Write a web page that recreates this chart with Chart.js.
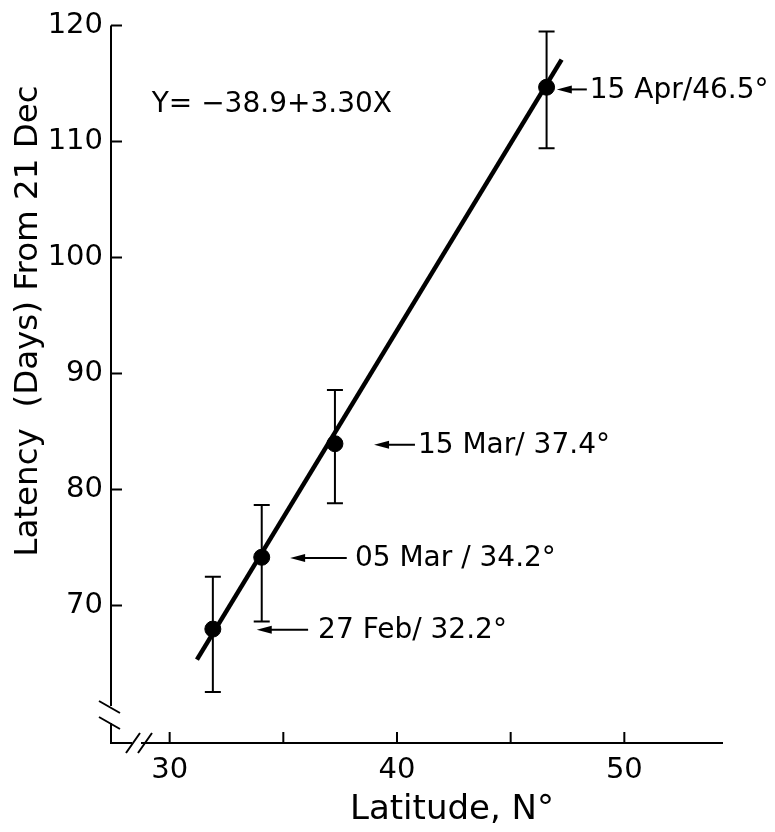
<!DOCTYPE html>
<html>
<head>
<meta charset="utf-8">
<script src="https://cdn.jsdelivr.net/npm/chart.js@4"></script>
<style>
  html, body { margin: 0; padding: 0; background: #fff; }
  #wrap { width: 775px; height: 832px; position: relative; }
</style>
</head>
<body>
<div id="wrap"><canvas id="latencyChart"></canvas></div>
<script>
// values
const latitude = [31.9, 34.05, 37.27, 46.58];
const latency = [67.96, 74.15, 83.94, 114.67];
const errLow = [62.53, 68.61, 78.8, 109.4];
const errHigh = [72.47, 78.66, 88.56, 119.47];
const fitX = [31.2, 47.24];
const fitY = [65.33, 117.05];
const dateLabels = ['27 Feb/ 32.2°', '05 Mar / 34.2°', '15 Mar/ 37.4°', '15 Apr/46.5°'];
const xTicks = [30, 35, 40, 45, 50];
const xTickLabels = ['30', '', '40', '', '50'];
const yTicks = [70, 80, 90, 100, 110, 120];
const equation = 'Y= \u221238.9+3.30X';

// where the arrows / labels sit, in data units
const arrowLayout = [
    { head: 33.83, tail: 36.09, y: 67.9, text: 36.53 },
    { head: 35.30, tail: 37.79, y: 74.09, text: 38.15 },
    { head: 38.99, tail: 40.79, y: 83.85, text: 40.92 },
    { head: 47.03, tail: 48.35, y: 114.48, text: 48.48 }
];

const FONT = "'DejaVu Sans', sans-serif";

const extras = {
    id: 'extras',
    afterDraw(chart) {
        const ctx = chart.ctx;
        const x = chart.scales.x, y = chart.scales.y;
        const area = chart.chartArea;
        ctx.save();
        ctx.strokeStyle = '#000';
        ctx.fillStyle = '#000';
        ctx.lineCap = 'butt';

        // axes with breaks
        ctx.lineWidth = 2;
        ctx.beginPath();
        ctx.moveTo(area.left, area.top);
        ctx.lineTo(area.left, area.bottom - 37);
        ctx.moveTo(area.left, area.bottom - 20);
        ctx.lineTo(area.left, area.bottom);
        ctx.lineTo(area.left + 21, area.bottom);
        ctx.moveTo(area.left + 30, area.bottom);
        ctx.lineTo(area.right, area.bottom);
        // break marks
        ctx.moveTo(area.left - 12, area.bottom - 42);
        ctx.lineTo(area.left + 9, area.bottom - 30);
        ctx.moveTo(area.left - 12, area.bottom - 26);
        ctx.lineTo(area.left + 9, area.bottom - 14);
        ctx.moveTo(area.left + 15, area.bottom + 10);
        ctx.lineTo(area.left + 29, area.bottom - 10);
        ctx.moveTo(area.left + 27, area.bottom + 10);
        ctx.lineTo(area.left + 41, area.bottom - 10);
        // inward ticks
        yTicks.forEach(v => {
            const py = y.getPixelForValue(v);
            ctx.moveTo(area.left, py);
            ctx.lineTo(area.left + 11, py);
        });
        xTicks.forEach(v => {
            const px = x.getPixelForValue(v);
            ctx.moveTo(px, area.bottom);
            ctx.lineTo(px, area.bottom - 11);
        });
        ctx.stroke();

        // error bars
        ctx.lineWidth = 2;
        ctx.beginPath();
        latitude.forEach((lat, i) => {
            const px = x.getPixelForValue(lat);
            const lo = y.getPixelForValue(errLow[i]);
            const hi = y.getPixelForValue(errHigh[i]);
            ctx.moveTo(px, lo); ctx.lineTo(px, hi);
            ctx.moveTo(px - 8, lo); ctx.lineTo(px + 8, lo);
            ctx.moveTo(px - 8, hi); ctx.lineTo(px + 8, hi);
        });
        ctx.stroke();

        // arrows + date labels
        ctx.font = '28px ' + FONT;
        ctx.textBaseline = 'middle';
        ctx.textAlign = 'left';
        arrowLayout.forEach((a, i) => {
            const hx = x.getPixelForValue(a.head);
            const tx = x.getPixelForValue(a.tail);
            const py = y.getPixelForValue(a.y);
            ctx.lineWidth = 2;
            ctx.beginPath();
            ctx.moveTo(hx + 8, py);
            ctx.lineTo(tx, py);
            ctx.stroke();
            ctx.beginPath();
            ctx.moveTo(hx, py);
            ctx.lineTo(hx + 15, py - 4);
            ctx.lineTo(hx + 15, py + 4);
            ctx.closePath();
            ctx.fill();
            ctx.fillText(dateLabels[i], x.getPixelForValue(a.text), py + 1);
        });

        // regression equation
        ctx.font = '28px ' + FONT;
        ctx.fillText(equation, x.getPixelForValue(29.21), y.getPixelForValue(113.2));

        // axis titles
        ctx.font = '34px ' + FONT;
        ctx.textAlign = 'center';
        ctx.fillText('Latitude, N°', 452, 810);
        ctx.font = '32.5px ' + FONT;
        ctx.translate(29, 321);
        ctx.rotate(-Math.PI / 2);
        ctx.fillText('Latency  (Days) From 21 Dec', 0, 0);
        ctx.restore();
    }
};

document.addEventListener('DOMContentLoaded', function() {
    const ctx = document.getElementById('latencyChart');
    new Chart(ctx, {
        type: 'scatter',
        data: {
            datasets: [{
                type: 'line',
                label: 'Fit',
                data: fitX.map((v, i) => ({ x: v, y: fitY[i] })),
                borderColor: '#000',
                borderWidth: 4.5,
                pointRadius: 0,
                fill: false
            }, {
                label: 'Latency',
                data: latitude.map((v, i) => ({ x: v, y: latency[i] })),
                backgroundColor: '#000',
                borderColor: '#000',
                pointRadius: 8
            }]
        },
        options: {
            responsive: true,
            maintainAspectRatio: false,
            animation: false,
            layout: { padding: { left: 0, right: 52, top: 20, bottom: 0 } },
            plugins: { legend: { display: false }, tooltip: { enabled: false } },
            scales: {
                x: {
                    type: 'linear',
                    min: 27.42,
                    max: 54.34,
                    grid: { display: false, drawTicks: false },
                    border: { display: false },
                    afterBuildTicks: s => { s.ticks = xTicks.map(v => ({ value: v })); },
                    afterFit: s => { s.height = 89; },
                    ticks: {
                        autoSkip: false,
                        maxRotation: 0,
                        padding: 10,
                        color: '#000',
                        font: { family: FONT, size: 29 },
                        callback: (v) => xTickLabels[xTicks.indexOf(v)]
                    }
                },
                y: {
                    type: 'linear',
                    min: 58.14,
                    max: 120,
                    grid: { display: false, drawTicks: false },
                    border: { display: false },
                    afterBuildTicks: s => { s.ticks = yTicks.map(v => ({ value: v })); },
                    afterFit: s => { s.width = 111; },
                    ticks: {
                        autoSkip: false,
                        padding: 8,
                        color: '#000',
                        font: { family: FONT, size: 29 }
                    }
                }
            }
        },
        plugins: [extras]
    });
});
</script>
</body>
</html>
